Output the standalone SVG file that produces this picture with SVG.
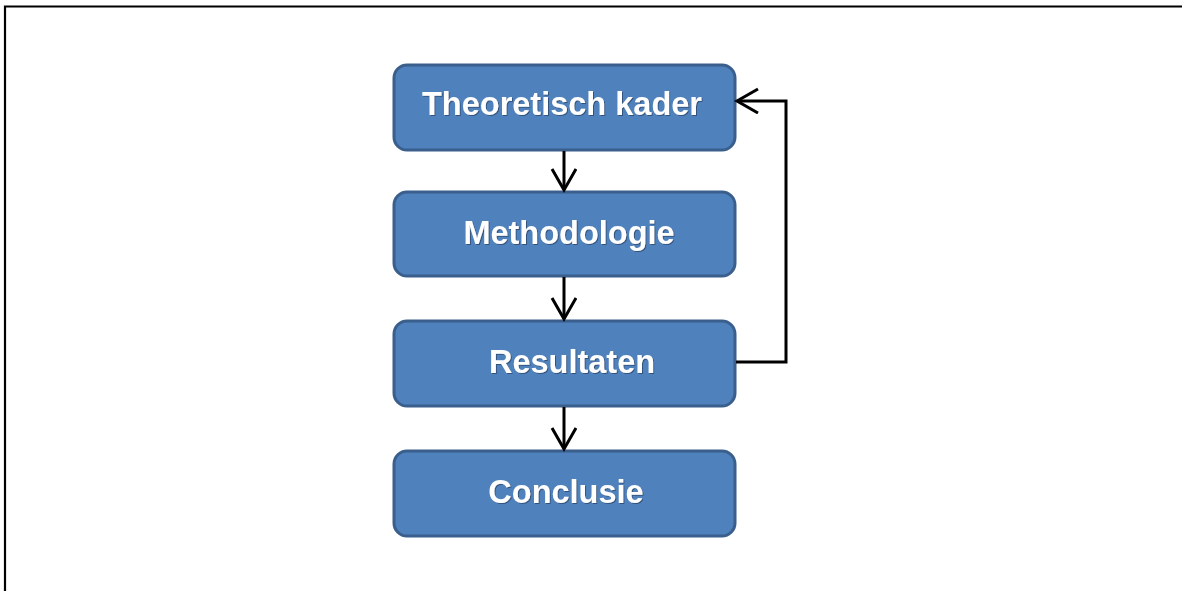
<svg xmlns="http://www.w3.org/2000/svg" width="1182" height="591" viewBox="0 0 1182 591">
<style>
.box{fill:#4F81BD;stroke:#3A5F8C;stroke-width:3}
.lbl{font-family:"Liberation Sans",Arial,sans-serif;font-weight:bold;font-size:32.5px;fill:#FFFFFF;text-anchor:middle;filter:url(#sh)}
.con{fill:none;stroke:#000;stroke-width:3}
</style>
<defs>
<filter id="sh" x="-10%" y="-30%" width="120%" height="160%">
<feDropShadow dx="1" dy="1" stdDeviation="0.6" flood-color="#1F3550" flood-opacity="0.6"/>
</filter>
<marker id="ah" markerUnits="userSpaceOnUse" markerWidth="30" markerHeight="30" refX="22" refY="13" orient="auto">
<path d="M1,1 L22,13 L1,25" fill="none" stroke="#000" stroke-width="3"/>
</marker>
</defs>
<path d="M5,591 L5,6.5 L1182,6.5" fill="none" stroke="#000" stroke-width="2.2"/>
<g id="n1"><rect class="box" x="394" y="65" width="341" height="85" rx="13"/><text class="lbl" x="562" y="115">Theoretisch kader</text></g>
<g id="n2"><rect class="box" x="394" y="192" width="341" height="84" rx="13"/><text class="lbl" x="569" y="244">Methodologie</text></g>
<g id="n3"><rect class="box" x="394" y="321" width="341" height="85" rx="13"/><text class="lbl" x="572" y="373">Resultaten</text></g>
<g id="n4"><rect class="box" x="394" y="451" width="341" height="85" rx="13"/><text class="lbl" x="566" y="503">Conclusie</text></g>
<g id="connectors">
<line class="con" x1="564" y1="151" x2="564" y2="190" marker-end="url(#ah)"/>
<line class="con" x1="564" y1="277" x2="564" y2="319" marker-end="url(#ah)"/>
<line class="con" x1="564" y1="407" x2="564" y2="449" marker-end="url(#ah)"/>
<polyline class="con" points="736,362 786,362 786,101 737,101" marker-end="url(#ah)"/>
</g>
</svg>
